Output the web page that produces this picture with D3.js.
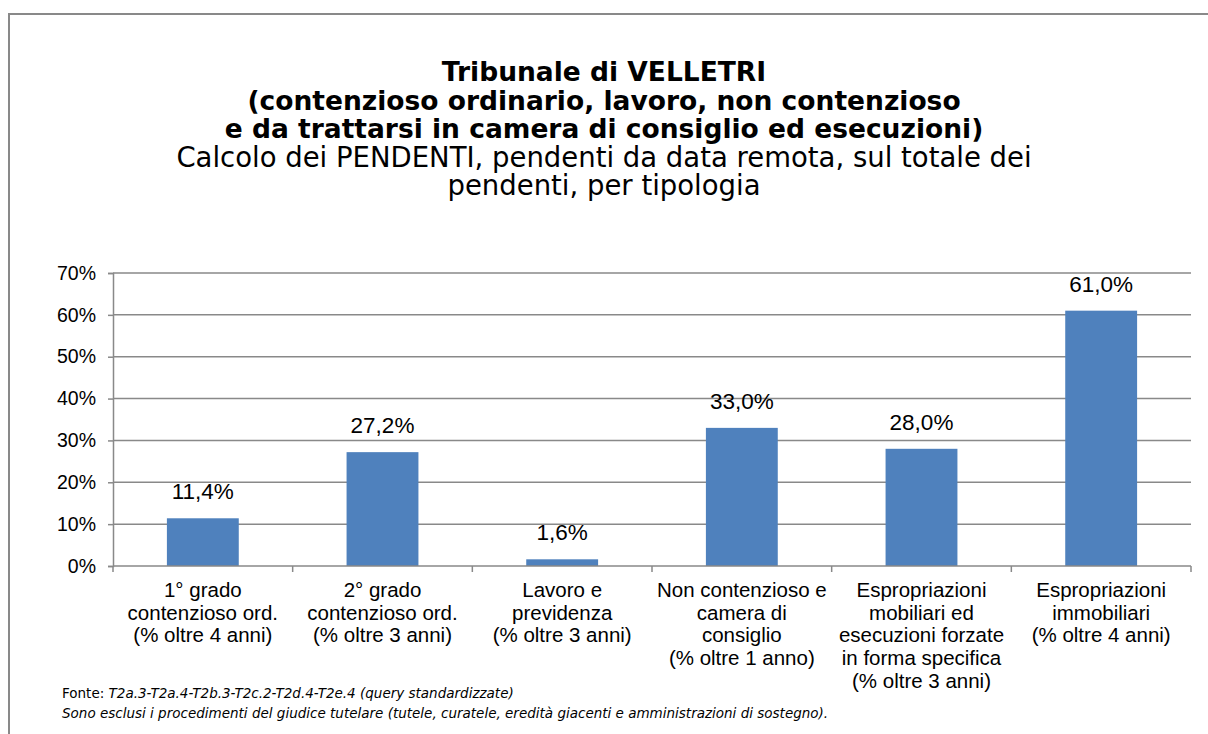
<!DOCTYPE html>
<html>
<head>
<meta charset="utf-8">
<script src="https://cdn.jsdelivr.net/npm/d3@7"></script>
<style>
  body { margin: 0; background: #fff; }
  svg { display: block; }
</style>
</head>
<body>
<svg id="chart" width="1208" height="734"></svg>
<script>
/* data */
const categories = [
  ["1° grado", "contenzioso ord.", "(% oltre 4 anni)"],
  ["2° grado", "contenzioso ord.", "(% oltre 3 anni)"],
  ["Lavoro e", "previdenza", "(% oltre 3 anni)"],
  ["Non contenzioso e", "camera di", "consiglio", "(% oltre 1 anno)"],
  ["Espropriazioni", "mobiliari ed", "esecuzioni forzate", "in forma specifica", "(% oltre 3 anni)"],
  ["Espropriazioni", "immobiliari", "(% oltre 4 anni)"]
];
const values = [11.4, 27.2, 1.6, 33.0, 28.0, 61.0];
const yTicks = [0, 10, 20, 30, 40, 50, 60, 70];

const titleLines = [
  "Tribunale di VELLETRI",
  "(contenzioso ordinario, lavoro, non contenzioso",
  "e da trattarsi in camera di consiglio ed esecuzioni)"
];
const subtitleLines = [
  "Calcolo dei PENDENTI, pendenti da data remota, sul totale dei",
  "pendenti, per tipologia"
];

const svg = d3.select("#chart");
const axisColor = "#898989";
const barColor = "#4f81bd";
const labelFont = "'Liberation Sans', Arial, sans-serif";
const titleFont = "'DejaVu Sans', Verdana, sans-serif";

/* plot area */
const plotLeft = 113, plotRight = 1191, plotTop = 273, plotBottom = 566;

/* outer chart frame, runs past the right/bottom edge of the picture */
svg.append("rect")
  .attr("x", 9).attr("y", 14)
  .attr("width", 1250).attr("height", 800)
  .attr("fill", "none")
  .attr("stroke", axisColor)
  .attr("stroke-width", 2);

/* title: 3 bold lines then 2 regular ones */
const allTitle = titleLines.map(t => ({t: t, bold: true}))
  .concat(subtitleLines.map(t => ({t: t, bold: false})));
svg.append("g").selectAll("text")
  .data(allTitle)
  .enter().append("text")
  .attr("x", 604)
  .attr("y", (d, i) => 81 + i * 28.6)
  .attr("text-anchor", "middle")
  .style("font-family", titleFont)
  .style("font-weight", d => d.bold ? "bold" : "normal")
  .style("font-size", d => d.bold ? "26.5px" : "27.5px")
  .text(d => d.t);

/* scales */
const x = d3.scaleBand()
  .domain(d3.range(values.length))
  .range([plotLeft, plotRight])
  .padding(0);
const barW = x.bandwidth() * 0.4;

const y = d3.scaleLinear()
  .domain([0, 70])
  .range([plotBottom, plotTop]);

/* gridlines */
svg.append("g").selectAll("line")
  .data(yTicks.slice(1))
  .enter().append("line")
  .attr("x1", plotLeft).attr("x2", plotRight)
  .attr("y1", d => y(d)).attr("y2", d => y(d))
  .attr("stroke", axisColor)
  .attr("stroke-width", 1.5);

/* y axis */
const yAxis = d3.axisLeft(y)
  .tickValues(yTicks)
  .tickSize(5)
  .tickPadding(12)
  .tickFormat(d => d + "%");
const yg = svg.append("g")
  .attr("transform", "translate(" + plotLeft + ",0)")
  .call(yAxis);
yg.select(".domain").attr("stroke", axisColor).attr("stroke-width", 1.5);
yg.selectAll(".tick line").attr("stroke", axisColor).attr("stroke-width", 1.5);
yg.selectAll(".tick text")
  .style("font-family", labelFont)
  .style("font-size", "19.5px")
  .attr("fill", "#000");

/* bars */
svg.append("g").selectAll("rect")
  .data(values)
  .enter().append("rect")
  .attr("x", (d, i) => x(i) + (x.bandwidth() - barW) / 2)
  .attr("y", d => y(d))
  .attr("width", barW)
  .attr("height", d => plotBottom - y(d))
  .attr("fill", barColor);

/* value labels */
svg.append("g").selectAll("text")
  .data(values)
  .enter().append("text")
  .attr("x", (d, i) => x(i) + x.bandwidth() / 2)
  .attr("y", d => y(d) - 19)
  .attr("text-anchor", "middle")
  .style("font-family", labelFont)
  .style("font-size", "22.5px")
  .text(d => d.toFixed(1).replace(".", ",") + "%");

/* x axis line and tick marks on the band edges */
svg.append("line")
  .attr("x1", plotLeft).attr("x2", plotRight)
  .attr("y1", plotBottom).attr("y2", plotBottom)
  .attr("stroke", axisColor).attr("stroke-width", 1.5);
const edges = d3.range(values.length).map(i => x(i)).concat([plotRight]);
svg.append("g").selectAll("line")
  .data(edges)
  .enter().append("line")
  .attr("x1", d => d).attr("x2", d => d)
  .attr("y1", plotBottom).attr("y2", plotBottom + 6)
  .attr("stroke", axisColor).attr("stroke-width", 1.5);

/* category labels */
const catG = svg.append("g").selectAll("text")
  .data(categories)
  .enter().append("text")
  .attr("text-anchor", "middle")
  .style("font-family", labelFont)
  .style("font-size", "20.5px");
catG.each(function(lines, i) {
  d3.select(this).selectAll("tspan")
    .data(lines)
    .enter().append("tspan")
    .attr("x", x(i) + x.bandwidth() / 2)
    .attr("y", (d, j) => 597 + j * 22.7)
    .text(d => d);
});

/* footer notes */
const foot = svg.append("g")
  .style("font-family", titleFont)
  .style("font-size", "13.5px");
const f1 = foot.append("text").attr("x", 62).attr("y", 698);
f1.append("tspan").text("Fonte: ");
f1.append("tspan").style("font-style", "italic")
  .text("T2a.3-T2a.4-T2b.3-T2c.2-T2d.4-T2e.4 (query standardizzate)");
foot.append("text").attr("x", 62).attr("y", 718)
  .style("font-style", "italic")
  .text("Sono esclusi i procedimenti del giudice tutelare (tutele, curatele, eredità giacenti e amministrazioni di sostegno).");
</script>
</body>
</html>
